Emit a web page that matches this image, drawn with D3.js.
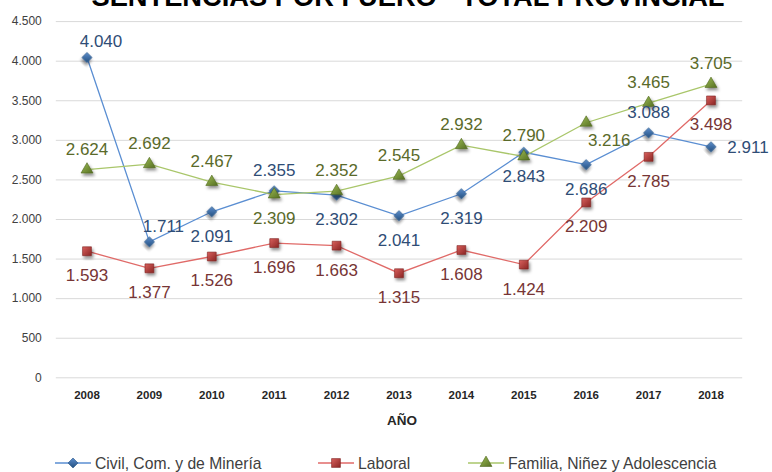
<!DOCTYPE html>
<html>
<head>
<meta charset="utf-8">
<script src="https://cdn.jsdelivr.net/npm/d3@7"></script>
<style>
  body { margin: 0; background: #fff; }
  svg { display: block; font-family: "Liberation Sans", Arial, sans-serif; }
</style>
</head>
<body>
<svg id="chart" width="772" height="472"></svg>
<script>
// data
const years = ['2008','2009','2010','2011','2012','2013','2014','2015','2016','2017','2018']
const civil = [4040, 1711, 2091, 2355, 2302, 2041, 2319, 2843, 2686, 3088, 2911]
const laboral = [1593, 1377, 1526, 1696, 1663, 1315, 1608, 1424, 2209, 2785, 3498]
const familia = [2624, 2692, 2467, 2309, 2352, 2545, 2932, 2790, 3216, 3465, 3705]
const yTicks = [0, 500, 1000, 1500, 2000, 2500, 3000, 3500, 4000, 4500]
const seriesNames = ['Civil, Com. y de Minería', 'Laboral', 'Familia, Niñez y Adolescencia']

// where each data label sits relative to its point
const civilLabelPos = ['ne','ne','s','n','s','s','s','s','s','n','e']
const laboralLabelPos = ['s','s','s','s','s','s','s','s','s','s','s']
const familiaLabelPos = ['n','n','n','s','n','n','n','n','se','n','n']

const labelOffset = {
    n: [0, -21], s: [0, 24], e: [37, 0], ne: [14, -16], se: [23, 17]
}

const locale = d3.formatLocale({decimal: ',', thousands: '.', grouping: [3], currency: ['$', '']})
const fmt = locale.format(',d')

const svg = d3.select('#chart')

const x = d3.scaleBand().domain(years).range([55.8, 742.2])
const y = d3.scaleLinear().domain([0, 4500]).range([377.3, 21.1])

const defs = svg.append('defs')
defs.append('filter').attr('id', 'shadow')
    .attr('x', '-60%').attr('y', '-60%').attr('width', '220%').attr('height', '220%')
    .append('feDropShadow')
    .attr('dx', 1.5).attr('dy', 2.5).attr('stdDeviation', 1.6)
    .attr('flood-color', '#000').attr('flood-opacity', 0.45)

const grad = (id, light, dark) => {
    let g = defs.append('linearGradient').attr('id', id)
        .attr('x1', 0).attr('y1', 0).attr('x2', 1).attr('y2', 1)
    g.append('stop').attr('offset', '0%').attr('stop-color', light)
    g.append('stop').attr('offset', '100%').attr('stop-color', dark)
}
grad('gBlue', '#5b8ccc', '#24507f')
grad('gRed', '#d9605d', '#8a2523')
grad('gGreen', '#9dbd55', '#566f22')

// title (top is cut off in the original)
svg.append('text')
    .attr('x', 408).attr('y', 6)
    .attr('text-anchor', 'middle')
    .attr('textLength', 633).attr('lengthAdjust', 'spacingAndGlyphs')
    .style('font-size', '28px').style('font-weight', 'bold')
    .text('SENTENCIAS POR FUERO - TOTAL PROVINCIAL')

// gridlines + y labels
const yAxis = svg.append('g')
    .attr('transform', 'translate(55.8,0)')
    .call(d3.axisLeft(y).tickValues(yTicks).tickSize(-(742.2 - 55.8)).tickPadding(14)
        .tickFormat(d => fmt(d)))
yAxis.select('.domain').remove()
yAxis.selectAll('line').attr('stroke', '#d9d9d9').attr('stroke-width', 1)
yAxis.selectAll('text').style('font-size', '12px').attr('fill', '#404040')

const xAxis = svg.append('g')
    .attr('transform', 'translate(0,385)')
    .call(d3.axisBottom(x).tickSize(0).tickPadding(6))
xAxis.select('.domain').remove()
xAxis.selectAll('text').style('font-size', '11.5px').style('font-weight', 'bold').attr('fill', '#262626')

svg.append('text')
    .attr('x', 402).attr('y', 425)
    .attr('text-anchor', 'middle')
    .style('font-size', '13.5px').style('font-weight', 'bold').attr('fill', '#262626')
    .text('AÑO')

const series = [
    {name: seriesNames[0], values: civil, pos: civilLabelPos, line: '#5a8ed2', fill: 'url(#gBlue)', stroke: '#2c5a8c', text: '#2f4d76', shape: 'diamond'},
    {name: seriesNames[1], values: laboral, pos: laboralLabelPos, line: '#e06a68', fill: 'url(#gRed)', stroke: '#7d2220', text: '#773535', shape: 'square'},
    {name: seriesNames[2], values: familia, pos: familiaLabelPos, line: '#a9c66a', fill: 'url(#gGreen)', stroke: '#4f661e', text: '#5a6a2a', shape: 'triangle'}
]

const markerPath = shape => {
    if (shape === 'diamond') return d3.symbol(d3.symbolSquare, 50)()
    if (shape === 'square') return d3.symbol(d3.symbolSquare, 78)()
    return d3.symbol(d3.symbolTriangle, 62)()
}

const cx = i => x(years[i]) + x.bandwidth() / 2

const line = d3.line().x((d, i) => cx(i)).y(d => y(d))

series.forEach(s => {
    svg.append('path')
        .datum(s.values)
        .attr('fill', 'none')
        .attr('stroke', s.line)
        .attr('stroke-width', 1.3)
        .attr('d', line)
})

series.forEach(s => {
    svg.append('g').selectAll('path')
        .data(s.values)
        .enter()
        .append('path')
        .attr('d', markerPath(s.shape))
        .attr('transform', (d, i) => 'translate(' + cx(i) + ',' + y(d) + ')' + (s.shape === 'diamond' ? ' rotate(45)' : ''))
        .attr('fill', s.fill)
        .attr('stroke', s.stroke)
        .attr('stroke-width', 0.6)
        .attr('filter', 'url(#shadow)')
})

series.forEach(s => {
    svg.append('g').selectAll('text')
        .data(s.values)
        .enter()
        .append('text')
        .attr('x', (d, i) => cx(i) + labelOffset[s.pos[i]][0])
        .attr('y', (d, i) => y(d) + labelOffset[s.pos[i]][1])
        .attr('dy', '0.35em')
        .attr('text-anchor', 'middle')
        .attr('fill', s.text)
        .style('font-size', '17px')
        .text(d => fmt(d))
})

// legend
const legendX = [55, 318, 468]
const legend = svg.append('g')
series.forEach((s, i) => {
    let g = legend.append('g').attr('transform', 'translate(' + legendX[i] + ',463)')
    g.append('line').attr('x1', 0).attr('x2', 36).attr('stroke', s.line).attr('stroke-width', 1.3)
    g.append('path')
        .attr('d', markerPath(s.shape))
        .attr('transform', 'translate(18,0)' + (s.shape === 'diamond' ? ' rotate(45)' : ''))
        .attr('fill', s.fill).attr('stroke', s.stroke).attr('stroke-width', 0.6)
    g.append('text')
        .attr('x', 40).attr('dy', '0.35em')
        .style('font-size', '15.7px').attr('fill', '#404040')
        .text(s.name)
})
</script>
</body>
</html>
